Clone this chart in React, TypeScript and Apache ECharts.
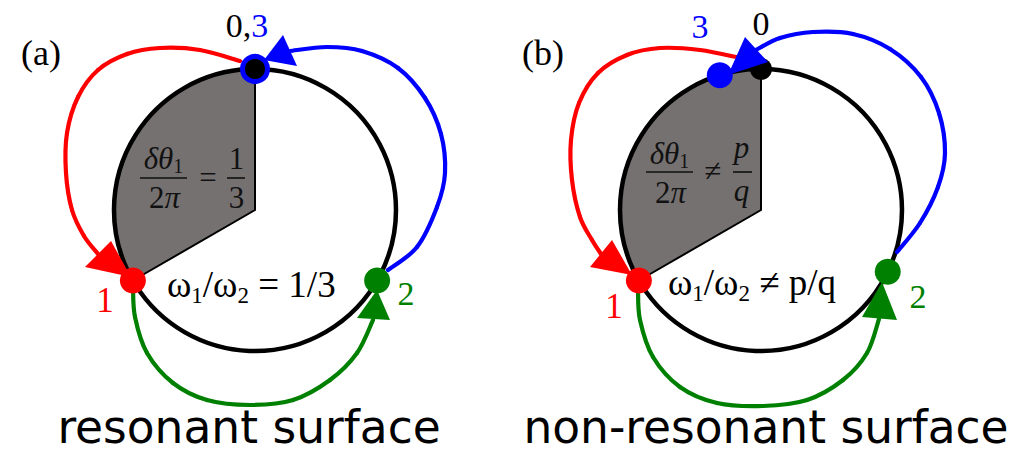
import React, { useEffect, useRef } from "react";
import * as echarts from "echarts";

type Pt = [number, number];

const W = 1017;
const H = 452;
const RED = "#ff0000";
const BLUE = "#0000ff";
const GREEN = "#008000";
const GRAY = "#767171";
const INK = "#000000";
const SERIF = '"Liberation Serif", "Times New Roman", serif';
const SANS = '"DejaVu Sans", Inter, sans-serif';

// ---- geometry ----
const centers: Pt[] = [[255, 210], [761, 210]];
const circleR = 141;
const shadeFrom = [90, 90]; // degrees, counter-clockwise from +x
const shadeTo = [210, 210];
// angles of points 0,1,2,3 for each panel
const pointAngles: number[][] = [
  [90, 210, 330, 90],
  [90, 210, 334, 107],
];

// connecting arcs (0->1 red, 1->2 green, 2->3 blue)
const redArcs: Pt[][] = [
  [[240, 61], [200, 50], [160, 48], [127, 54], [98, 70], [78, 97], [67, 133], [66, 173], [72, 210], [84, 236], [98, 254]],
  [[740, 58], [700, 50], [660, 48], [627, 55], [598, 73], [579, 103], [571, 140], [572, 180], [580, 217], [592, 240], [601, 254]],
];
const greenArcs: Pt[][] = [
  [[133, 287], [135, 317], [147, 353], [173, 383], [207, 400], [250, 405], [293, 400], [330, 380], [357, 353], [373, 320]],
  [[638, 290], [640, 320], [653, 357], [680, 387], [717, 403], [763, 406], [807, 400], [843, 380], [867, 353], [879, 319]],
];
const blueArcs: Pt[][] = [
  [[388, 270], [417, 247], [437, 207], [445, 173], [441, 134], [425, 98], [398, 68], [362, 51], [327, 47], [290, 51]],
  [[897, 252], [920, 223], [938, 187], [945, 153], [939, 113], [921, 77], [890, 49], [853, 34], [813, 32], [780, 38], [756, 50]],
];
// arrow heads: tip, base1, base2
const redHeads: Pt[][] = [
  [[131, 277], [85, 267], [111, 241]],
  [[632, 275], [590, 267], [612, 240]],
];
const greenHeads: Pt[][] = [
  [[377, 290], [357, 318], [390, 320]],
  [[882, 282], [862, 317], [897, 320]],
];
const blueHeads: Pt[][] = [
  [[264, 60], [283, 35], [297, 66]],
  [[728, 75], [745, 37], [768, 62]],
];

// labels
const panelLabels = ["(a)", "(b)"];
const panelLabelPos: Pt[] = [[41, 53], [543, 53]];
const captions = ["resonant surface", "non-resonant surface"];
const captionPos: Pt[] = [[249, 427], [766, 427]];
const relation = ["=", "\u2260"];
const freqRight = ["1/3", "p/q"];
const freqPos: Pt[] = [[167, 284], [668, 282]];

function pt(c: Pt, deg: number, r = circleR): Pt {
  const a = (deg * Math.PI) / 180;
  return [c[0] + r * Math.cos(a), c[1] - r * Math.sin(a)];
}

function txt(x: number, y: number, text: string, fontSize: number, fill: string, extra: any = {}, z = 20) {
  return {
    type: "text",
    x,
    y,
    z,
    style: {
      text,
      fontSize,
      fontFamily: SERIF,
      fill,
      align: "center",
      verticalAlign: "middle",
      ...extra,
    },
  };
}

// Catmull-Rom through the sampled points, drawn as cubic Bezier pieces
function smoothCurve(pts: Pt[], color: string, z: number) {
  const out: any[] = [];
  const n = pts.length;
  for (let i = 0; i < n - 1; i++) {
    const p0 = pts[Math.max(0, i - 1)];
    const p1 = pts[i];
    const p2 = pts[i + 1];
    const p3 = pts[Math.min(n - 1, i + 2)];
    out.push({
      type: "bezierCurve",
      z,
      shape: {
        x1: p1[0],
        y1: p1[1],
        cpx1: p1[0] + (p2[0] - p0[0]) / 6,
        cpy1: p1[1] + (p2[1] - p0[1]) / 6,
        cpx2: p2[0] - (p3[0] - p1[0]) / 6,
        cpy2: p2[1] - (p3[1] - p1[1]) / 6,
        x2: p2[0],
        y2: p2[1],
      },
      style: { stroke: color, lineWidth: 4.2, fill: "none", lineCap: "round" },
    });
  }
  return out;
}

function buildElements() {
  const els: any[] = [];
  for (let p = 0; p < 2; p++) {
    const c = centers[p];
    const ang = pointAngles[p];
    // shaded sector
    els.push({
      type: "sector",
      z: 1,
      shape: {
        cx: c[0],
        cy: c[1],
        r: circleR,
        r0: 0,
        startAngle: (-shadeFrom[p] * Math.PI) / 180,
        endAngle: (-shadeTo[p] * Math.PI) / 180,
        clockwise: false,
      },
      style: { fill: GRAY, stroke: INK, lineWidth: 2 },
    });
    // main circle
    els.push({
      type: "circle",
      z: 2,
      shape: { cx: c[0], cy: c[1], r: circleR },
      style: { fill: "none", stroke: INK, lineWidth: 4.5 },
    });
    // arcs
    els.push(...smoothCurve(redArcs[p], RED, 3));
    els.push(...smoothCurve(greenArcs[p], GREEN, 3));
    els.push(...smoothCurve(blueArcs[p], BLUE, 3));
    // dots
    const p0 = pt(c, ang[0]);
    const p1 = pt(c, ang[1]);
    const p2 = pt(c, ang[2]);
    const p3 = pt(c, ang[3]);
    if (p === 0) {
      els.push({
        type: "circle",
        z: 5,
        shape: { cx: p0[0], cy: p0[1], r: 12.5 },
        style: { fill: INK, stroke: BLUE, lineWidth: 5 },
      });
    } else {
      els.push({ type: "circle", z: 5, shape: { cx: p0[0], cy: p0[1], r: 11 }, style: { fill: INK } });
      els.push({ type: "circle", z: 5, shape: { cx: p3[0], cy: p3[1], r: 13 }, style: { fill: BLUE } });
    }
    els.push({ type: "circle", z: 5, shape: { cx: p1[0], cy: p1[1], r: 13 }, style: { fill: RED } });
    els.push({ type: "circle", z: 5, shape: { cx: p2[0], cy: p2[1], r: 13 }, style: { fill: GREEN } });
    // arrow heads
    const heads: [Pt[], string][] = [
      [redHeads[p], RED],
      [greenHeads[p], GREEN],
      [blueHeads[p], BLUE],
    ];
    heads.forEach(([pts, col]) => {
      els.push({ type: "polygon", z: 6, shape: { points: pts }, style: { fill: col } });
    });

    // panel label
    els.push(txt(panelLabelPos[p][0], panelLabelPos[p][1], panelLabels[p], 36, INK));

    // point labels
    if (p === 0) {
      els.push(
        txt(247, 25.5, "{k|0,}{b|3}", 34, INK, {
          rich: {
            k: { fontSize: 34, fontFamily: SERIF, fill: INK },
            b: { fontSize: 34, fontFamily: SERIF, fill: BLUE },
          },
        })
      );
      els.push(txt(105, 300, "1", 35, RED));
      els.push(txt(406, 293.5, "2", 34, GREEN));
    } else {
      els.push(txt(700, 26.5, "3", 34, BLUE));
      els.push(txt(761, 23.5, "0", 34, INK));
      els.push(txt(614, 306, "1", 35, RED));
      els.push(txt(918, 296.5, "2", 34, GREEN));
    }

    // frequency ratio
    els.push(
      txt(
        freqPos[p][0],
        freqPos[p][1],
        `{m|\u03c9}{s|1}{m|/\u03c9}{s|2}{m| ${relation[p]} ${freqRight[p]}}`,
        37,
        INK,
        {
          align: "left",
          rich: {
            m: { fontSize: 37, fontFamily: SERIF, fill: INK, lineHeight: 46, verticalAlign: "middle" },
            s: { fontSize: 23, fontFamily: SERIF, fill: INK, lineHeight: 23, verticalAlign: "bottom" },
          },
        }
      )
    );

    // fraction in the shaded sector
    const fx = p === 0 ? 163.5 : 669.5;
    const numY = p === 0 ? 158 : 153;
    const denY = p === 0 ? 197 : 192;
    const barY = p === 0 ? 178 : 172;
    const fracRich = {
      i: { fontSize: 31, fontFamily: SERIF, fontStyle: "italic", fill: "#111", lineHeight: 36, verticalAlign: "middle" },
      u: { fontSize: 31, fontFamily: SERIF, fill: "#111", lineHeight: 36, verticalAlign: "middle" },
      s: { fontSize: 20, fontFamily: SERIF, fill: "#111", lineHeight: 20, verticalAlign: "bottom" },
    };
    els.push(txt(fx, numY, "{i|\u03b4\u03b8}{s|1}", 31, "#111", { rich: fracRich }));
    els.push(txt(fx + 1, denY, "{u|2}{i|\u03c0}", 31, "#111", { rich: fracRich }));
    els.push({
      type: "line",
      z: 20,
      shape: { x1: fx - 23.5, y1: barY, x2: fx + 23.5, y2: barY },
      style: { stroke: "#111", lineWidth: 1.6 },
    });
    if (p === 0) {
      els.push(txt(208, 177.5, "=", 31, "#111"));
      els.push(txt(236.5, 158, "1", 31, "#111"));
      els.push(txt(236.5, 197, "3", 31, "#111"));
      els.push({ type: "line", z: 20, shape: { x1: 227, y1: barY, x2: 245, y2: barY }, style: { stroke: "#111", lineWidth: 1.6 } });
    } else {
      els.push(txt(713, 170.5, "\u2260", 31, "#111"));
      els.push(txt(741.5, 147, "p", 31, "#111", { fontStyle: "italic" }));
      els.push(txt(741.5, 190, "q", 31, "#111", { fontStyle: "italic" }));
      els.push({ type: "line", z: 20, shape: { x1: 733, y1: barY, x2: 752, y2: barY }, style: { stroke: "#111", lineWidth: 1.6 } });
    }

    // caption
    els.push(txt(captionPos[p][0], captionPos[p][1], captions[p], 45.5, INK, { fontFamily: SANS }));
  }
  return els;
}

export default function App() {
  const ref = useRef<HTMLDivElement>(null);
  useEffect(() => {
    if (!ref.current) return;
    const chart = echarts.init(ref.current, null, { renderer: "svg", width: W, height: H });
    chart.setOption({
      animation: false,
      backgroundColor: "#ffffff",
      graphic: { elements: buildElements() },
    });
    return () => chart.dispose();
  }, []);
  return (
    <div
      ref={ref}
      style={{ position: "fixed", left: 0, top: 0, width: W, height: H, background: "#fff" }}
    />
  );
}
